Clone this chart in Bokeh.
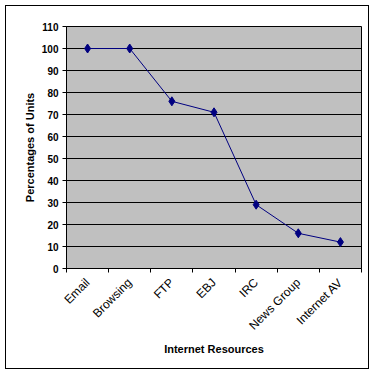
from math import pi
from bokeh.plotting import figure
from bokeh.models import Range1d, FixedTicker
from bokeh.embed import file_html
from bokeh.resources import INLINE

categories = ["Email", "Browsing", "FTP", "EBJ", "IRC", "News Group", "Internet AV"]
percentages = [100, 100, 76, 71, 29, 16, 12]
y_ticks = [0, 10, 20, 30, 40, 50, 60, 70, 80, 90, 100, 110]

xs = [i + 0.5 for i in range(len(categories))]
boundaries = list(range(len(categories) + 1))

FONT = "Liberation Sans"

p = figure(width=364, height=364, output_backend="svg", toolbar_location=None,
           x_range=Range1d(0, len(categories)), y_range=Range1d(0, 110),
           min_border_left=60, min_border_right=9, min_border_top=20, min_border_bottom=102)
p.margin = (5, 7, 7, 5)
p.styles = {"border": "1px solid black", "box-sizing": "border-box"}

p.background_fill_color = "#C0C0C0"
p.border_fill_color = "white"
p.outline_line_color = "black"
p.outline_line_width = 1

p.line(xs, percentages, line_color="#000080", line_width=1)
p.scatter(xs, percentages, marker="diamond", size=9, fill_color="#000080", line_color="#000080")

# y axis
p.yaxis.ticker = FixedTicker(ticks=y_ticks, minor_ticks=[])
p.yaxis.major_tick_out = 4
p.yaxis.major_tick_in = 0
p.yaxis.axis_line_color = "black"
p.yaxis.major_label_text_font = FONT
p.yaxis.major_label_text_font_style = "bold"
p.yaxis.major_label_text_font_size = "10px"
p.yaxis.major_label_text_color = "black"
p.yaxis.major_label_standoff = 4
p.yaxis.axis_label = "Percentages of Units"
p.yaxis.axis_label_text_font = FONT
p.yaxis.axis_label_text_font_style = "bold"
p.yaxis.axis_label_text_font_size = "11px"
p.yaxis.axis_label_text_color = "black"
p.yaxis.axis_label_standoff = 3

# x axis
p.xaxis.ticker = FixedTicker(ticks=xs, minor_ticks=boundaries)
p.xaxis.major_tick_out = 0
p.xaxis.major_tick_in = 0
p.xaxis.minor_tick_out = 4
p.xaxis.minor_tick_in = 0
p.xaxis.minor_tick_line_color = "black"
p.xaxis.axis_line_color = "black"
p.xaxis.major_label_overrides = {x: c for x, c in zip(xs, categories)}
p.xaxis.major_label_orientation = pi / 4
p.xaxis.major_label_text_font = FONT
p.xaxis.major_label_text_font_size = "12px"
p.xaxis.major_label_text_color = "black"
p.xaxis.major_label_standoff = 8
p.xaxis.axis_label = "Internet Resources"
p.xaxis.axis_label_text_font = FONT
p.xaxis.axis_label_text_font_style = "bold"
p.xaxis.axis_label_text_font_size = "11px"
p.xaxis.axis_label_text_color = "black"
p.xaxis.axis_label_standoff = 2

p.xgrid.grid_line_color = None
p.ygrid.ticker = FixedTicker(ticks=y_ticks)
p.ygrid.grid_line_color = "black"
p.ygrid.grid_line_width = 1
p.ygrid.grid_line_alpha = 1

open("out.html", "w").write(file_html(p, INLINE))
